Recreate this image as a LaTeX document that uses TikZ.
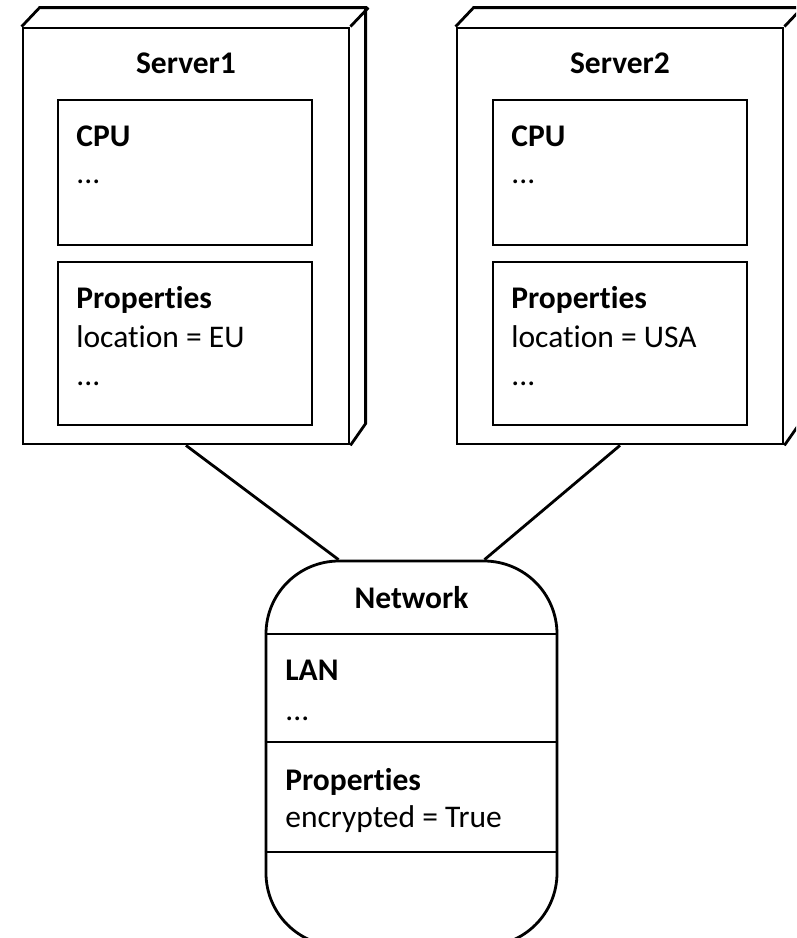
\documentclass[tikz,border=0pt]{standalone}
\usepackage{fontspec}
\setmainfont{Carlito}[Ligatures={NoCommon}]
\begin{document}
\begin{tikzpicture}[x=1pt,y=-1pt,line width=2.8pt,
  box/.style={draw, rectangle, inner sep=0pt},
  hd/.style={inner sep=0pt, font=\fontsize{31.5}{36}\selectfont\bfseries},
  tx/.style={inner sep=0pt, font=\fontsize{31.5}{36}\selectfont}]
\useasboundingbox (0,0) rectangle (796,938);
\clip (0,0) rectangle (796,938);
% Server1
\node[box, minimum width=326pt, minimum height=416pt] (s1) at (186,236) {};
\draw (s1.north west) -- ++(18,-19) -- ++(326,0) -- ++(0,416) -- (s1.south east);
\draw (s1.north east) -- ++(18,-19);
\node[box, minimum width=254pt, minimum height=145pt] (s1cpu) at (185,172.5) {};
\node[box, minimum width=254pt, minimum height=163pt] (s1prop) at (185,343.5) {};
\node[hd, anchor=base] (s1t) at (186,73) {Server1};
\node[hd, anchor=base west] (s1c) at (75,146) {CPU};
\node[tx, anchor=base west] (s1cd) at (75,183) {...};
\node[hd, anchor=base west] (s1p) at (75,308) {Properties};
\node[tx, anchor=base west] (s1l) at (75,347) {location = EU};
\node[tx, anchor=base west] (s1pd) at (75,385) {...};
% Server2
\node[box, minimum width=326pt, minimum height=416pt] (s2) at (620,236) {};
\draw (s2.north west) -- ++(18,-19) -- ++(326,0) -- ++(0,416) -- (s2.south east);
\draw (s2.north east) -- ++(18,-19);
\node[box, minimum width=254pt, minimum height=145pt] (s2cpu) at (620,172.5) {};
\node[box, minimum width=254pt, minimum height=163pt] (s2prop) at (620,343.5) {};
\node[hd, anchor=base] (s2t) at (620,73) {Server2};
\node[hd, anchor=base west] (s2c) at (510,146) {CPU};
\node[tx, anchor=base west] (s2cd) at (510,183) {...};
\node[hd, anchor=base west] (s2p) at (510,308) {Properties};
\node[tx, anchor=base west] (s2l) at (510,347) {location = USA};
\node[tx, anchor=base west] (s2pd) at (510,385) {...};
% Network
\node[box, rounded corners=73pt, minimum width=291pt, minimum height=385pt] (net) at (411.5,753.5) {};
\draw (net.west |- 0,634) -- (net.east |- 0,634);
\draw (net.west |- 0,742) -- (net.east |- 0,742);
\draw (net.west |- 0,852) -- (net.east |- 0,852);
\node[hd, anchor=base] (nt) at (411.5,608) {Network};
\node[hd, anchor=base west] (nl) at (284,680) {LAN};
\node[tx, anchor=base west] (nld) at (284,720) {...};
\node[hd, anchor=base west] (np) at (284,790) {Properties};
\node[tx, anchor=base west] (ne) at (284,827) {encrypted = True};
% connectors
\draw (s1.south) -- ([xshift=-73pt]net.north);
\draw (s2.south) -- ([xshift=73pt]net.north);
\end{tikzpicture}
\end{document}
